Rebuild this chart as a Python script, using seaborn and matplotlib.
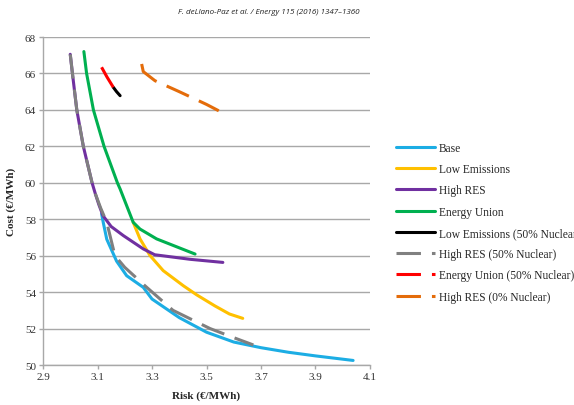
import numpy as np
import pandas as pd
import matplotlib
matplotlib.use("Agg")
import matplotlib.pyplot as plt
import seaborn as sns

# efficient frontiers, risk vs cost (both in EUR/MWh)
base_risk = [3.115, 3.121, 3.134, 3.17, 3.207, 3.268, 3.3, 3.4, 3.5, 3.6, 3.7, 3.8, 3.9, 4.038]
base_cost = [58.3, 57.83, 56.9, 55.7, 54.9, 54.26, 53.62, 52.6, 51.8, 51.26, 50.95, 50.7, 50.5, 50.25]

lowem_risk = [3.231, 3.256, 3.293, 3.341, 3.415, 3.464, 3.53, 3.584, 3.633]
lowem_cost = [57.83, 56.92, 56.0, 55.18, 54.35, 53.85, 53.25, 52.8, 52.56]

highres_risk = [3.0, 3.008, 3.024, 3.048, 3.08, 3.092, 3.105, 3.12, 3.15, 3.195, 3.268, 3.31, 3.44, 3.56]
highres_cost = [67.05, 66.0, 64.0, 62.0, 60.0, 59.4, 58.8, 58.2, 57.6, 57.1, 56.37, 56.05, 55.8, 55.63]

eu_risk = [3.05, 3.06, 3.085, 3.124, 3.173, 3.183, 3.231, 3.256, 3.317, 3.439, 3.458]
eu_cost = [67.2, 66.0, 64.0, 62.0, 60.0, 59.66, 57.83, 57.46, 56.92, 56.2, 56.09]

lowem50_risk = [3.158, 3.17, 3.183]
lowem50_cost = [65.24, 65.0, 64.78]

highres50_risk = [3.0, 3.008, 3.024, 3.048, 3.08, 3.092, 3.112, 3.134, 3.164, 3.2, 3.274, 3.377, 3.513, 3.6, 3.672]
highres50_cost = [67.05, 66.0, 64.0, 62.0, 60.0, 59.4, 58.6, 57.83, 56.0, 55.36, 54.35, 53.0, 52.0, 51.5, 51.1]

eu50_risk = [3.115, 3.135, 3.158]
eu50_cost = [66.34, 65.8, 65.24]

highres0_risk = [3.262, 3.268, 3.311, 3.4, 3.5, 3.545]
highres0_cost = [66.52, 66.1, 65.6, 65.0, 64.3, 63.95]

series = [
    ("Base", base_risk, base_cost, "#1CADE4", "-"),
    ("Low Emissions", lowem_risk, lowem_cost, "#FFC000", "-"),
    ("High RES", highres_risk, highres_cost, "#7030A0", "-"),
    ("Energy Union", eu_risk, eu_cost, "#00B050", "-"),
    ("Low Emissions (50% Nuclear)", lowem50_risk, lowem50_cost, "#000000", "-"),
    ("High RES (50% Nuclear)", highres50_risk, highres50_cost, "#808080", (0, (8, 3.6))),
    ("Energy Union (50% Nuclear)", eu50_risk, eu50_cost, "#FF0000", (0, (8, 3.6))),
    ("High RES (0% Nuclear)", highres0_risk, highres0_cost, "#E46C0A", (0, (8, 3.6))),
]

sns.set_theme(style="white")
plt.rcParams['font.family'] = ['Liberation Serif', 'DejaVu Serif']

fig = plt.figure(figsize=(5.74, 4.06), dpi=100)
ax = fig.add_axes([43 / 574, 1 - 366 / 406, 327 / 574, 328 / 406])

for name, xs, ys, col, ls in series:
    df = pd.DataFrame({"Risk": xs, "Cost": ys})
    sns.lineplot(data=df, x="Risk", y="Cost", ax=ax, sort=False, estimator=None,
                 color=col, linestyle=ls, linewidth=2.2, label=name)

ax.set_xlim(2.9, 4.1)
ax.set_ylim(50, 68)
ax.set_xticks(np.arange(2.9, 4.11, 0.2))
ax.set_xticklabels(["2.9", "3.1", "3.3", "3.5", "3.7", "3.9", "4.1"])
ax.set_yticks(np.arange(50, 69, 2))
ax.grid(axis="y", color="#A8A8A8", linewidth=1)
ax.grid(axis="x", visible=False)
for s in ["top", "right"]:
    ax.spines[s].set_visible(False)
for s in ["left", "bottom"]:
    ax.spines[s].set_color("#A8A8A8")
    ax.spines[s].set_linewidth(1)
ax.tick_params(axis="both", which="major", length=3, width=1, color="#A8A8A8",
               labelsize=8, labelcolor="#333333", pad=2, direction="out",
               left=True, bottom=True)

ax.set_xlabel("Risk (€/MWh)", fontsize=8, fontweight="bold", labelpad=7)
ax.set_ylabel("Cost (€/MWh)", fontsize=8, fontweight="bold", labelpad=6)

ax.legend(loc="upper left", bbox_to_anchor=(396 / 574, 1 - 143 / 406),
          bbox_transform=fig.transFigure, frameon=False, fontsize=8.3,
          handlelength=3.4, handletextpad=0.3, labelspacing=0.8,
          borderaxespad=0, borderpad=0)

fig.text(0.469, 1 - 13 / 406, "F. deLlano-Paz et al. / Energy 115 (2016) 1347\u20131360",
         ha="center", va="center", fontsize=5.8, style="italic", color="#222222",
         family="Open Sans")

fig.savefig("out.png", dpi=100)
